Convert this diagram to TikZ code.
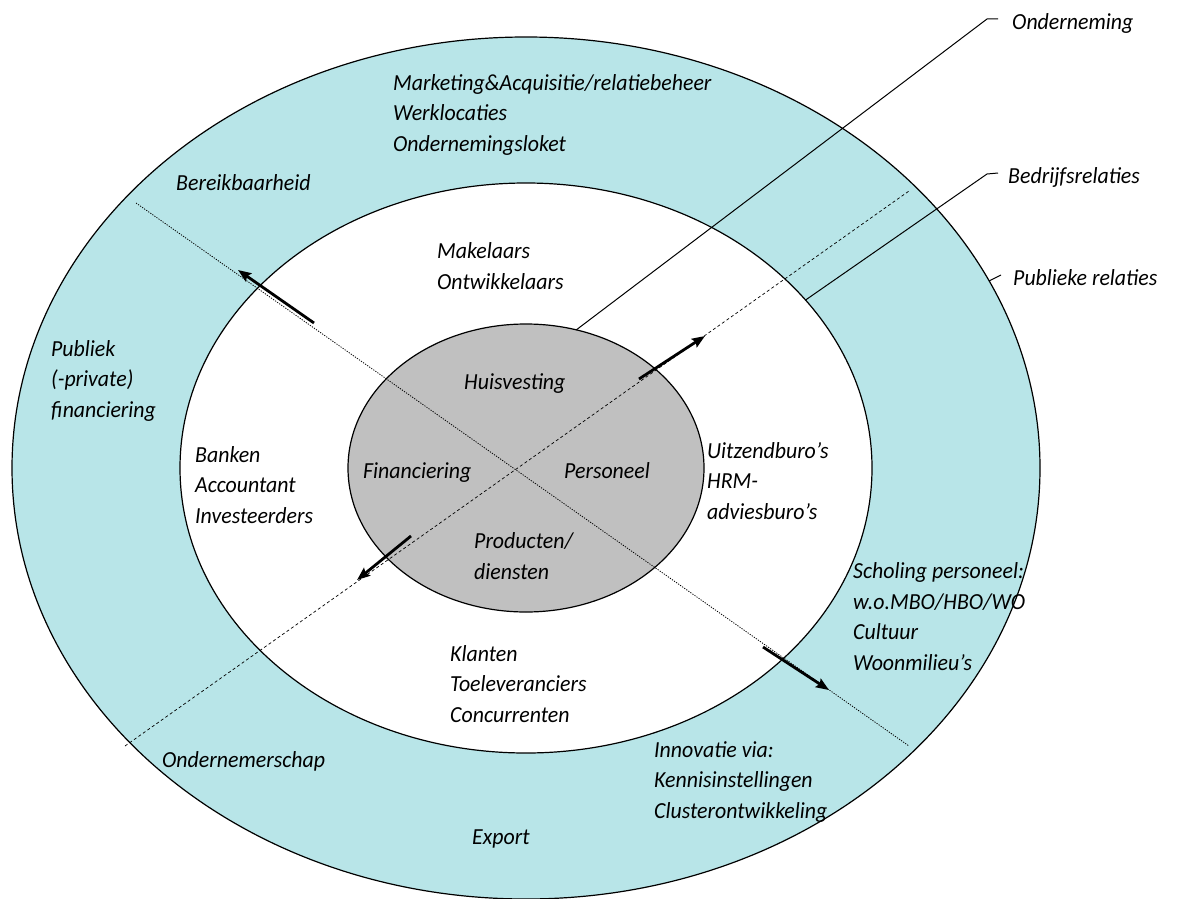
\documentclass[tikz,border=0pt]{standalone}
\usepackage{fontspec}
\setmainfont{Carlito}[FakeStretch=0.95]
\usetikzlibrary{arrows.meta, shapes.geometric}
\definecolor{ringblauw}{RGB}{184,229,232}
\definecolor{kerngrijs}{RGB}{192,192,192}

\begin{document}
\begin{tikzpicture}[x=1pt, y=-1pt,
		ring/.style={ellipse, draw=black, line width=1.2pt, inner sep=0pt, outer sep=0pt},
		tekst/.style={anchor=base west, align=left, inner sep=0pt, font=\fontsize{23}{30.5}\selectfont\itshape},
		stippel/.style={line width=0.8pt, dash pattern=on 1.2pt off 1.3pt},
		streep/.style={line width=0.7pt, dash pattern=on 3pt off 2.5pt},
		lijn/.style={line width=1pt},
		pijl/.style={line width=2.8pt, -{Stealth[length=13pt, width=10pt, inset=2pt]}}]
			\useasboundingbox (0,0) rectangle (1180,899);
			\node[ring, fill=ringblauw, minimum width=1028pt, minimum height=862pt] (buitenring) at (526,468) {};
			\node[ring, fill=white, minimum width=692pt, minimum height=570pt] (middenring) at (526,468) {};
			\node[ring, fill=kerngrijs, minimum width=356pt, minimum height=288pt] (kern) at (526,468) {};
			\coordinate (lb) at (136,203);
			\coordinate (ro) at (909,746);
			\coordinate (lo) at (125,746);
			\coordinate (rb) at (909,191);
			\draw[stippel] (lb) -- (ro);
			\draw[streep] (lo) -- (rb);
			\coordinate (knik1) at (987,19);
			\coordinate (eind1) at (998,19);
			\coordinate (knik2) at (987,174);
			\coordinate (eind2) at (998,173);
			\coordinate (eind3) at (1001,275);
			\draw[lijn] (kern.70) -- (knik1) -- (eind1);
			\draw[lijn] (middenring.31) -- (knik2) -- (eind2);
			\draw[lijn] (buitenring.22) -- (eind3);
			\coordinate (pa1) at (314,323);
			\coordinate (pa2) at (238,270);
			\coordinate (pb1) at (639,379);
			\coordinate (pb2) at (705,336);
			\coordinate (pc1) at (411,536);
			\coordinate (pc2) at (357,580);
			\coordinate (pd1) at (763,647);
			\coordinate (pd2) at (829,690);
			\draw[pijl] (pa1) -- (pa2);
			\draw[pijl] (pb1) -- (pb2);
			\draw[pijl] (pc1) -- (pc2);
			\draw[pijl] (pd1) -- (pd2);
			\node[tekst] (marketing) at (393,151) {Marketing\&Acquisitie/relatiebeheer\\Werklocaties\\Ondernemingsloket};
			\node[tekst] (bereik) at (176,190) {Bereikbaarheid};
			\node[tekst] (makelaars) at (437,289) {Makelaars\\Ontwikkelaars};
			\node[tekst] (publiek) at (51,417) {Publiek\\(-private)\\financiering};
			\node[tekst] (huisvesting) at (464,389) {Huisvesting};
			\node[tekst] (financiering) at (363,478) {Financiering};
			\node[tekst] (personeel) at (564,478) {Personeel};
			\node[tekst] (producten) at (474,579) {Producten/\\diensten};
			\node[tekst] (banken) at (195,523) {Banken\\Accountant\\Investeerders};
			\node[tekst] (uitzend) at (707,519) {Uitzendburo’s\\HRM-\\adviesburo’s};
			\node[tekst] (scholing) at (853,670) {Scholing personeel:\\w.o.MBO/HBO/WO\\Cultuur\\Woonmilieu’s};
			\node[tekst] (klanten) at (450,722) {Klanten\\Toeleveranciers\\Concurrenten};
			\node[tekst] (ondernemerschap) at (162,767) {Ondernemerschap};
			\node[tekst] (innovatie) at (654,818) {Innovatie via:\\Kennisinstellingen\\Clusterontwikkeling};
			\node[tekst] (export) at (472,844) {Export};
			\node[tekst] (onderneming) at (1012,30) {Onderneming};
			\node[tekst] (bedrijfsrel) at (1008,183) {Bedrijfsrelaties};
			\node[tekst] (publrel) at (1013,285) {Publieke relaties};
		\end{tikzpicture}
\end{document}
